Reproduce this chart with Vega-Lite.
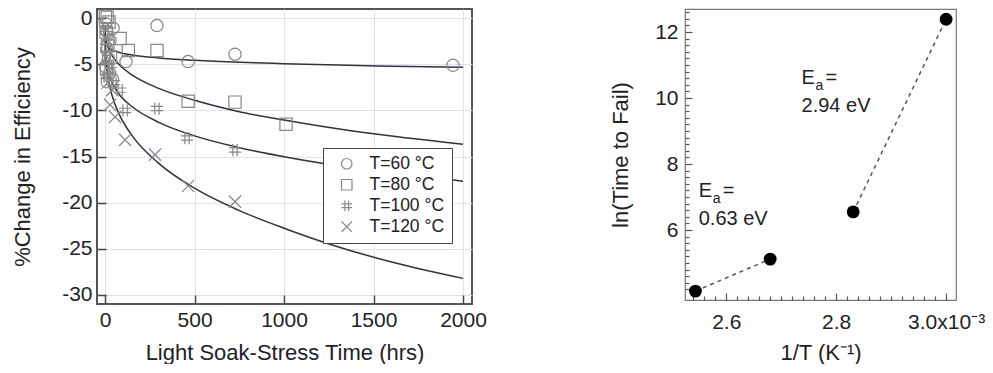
{
  "$schema": "https://vega.github.io/schema/vega-lite/v6.json",
  "background": "white",
  "padding": {"left": 10, "top": 6, "right": 0, "bottom": 0},
  "spacing": 121,
  "config": {"font": "Liberation Sans"},
  "datasets": {
    "fits": [
      {"T": "T=60 °C", "t": 0.2, "y": -1.88}, {"T": "T=60 °C", "t": 1, "y": -2.26}, {"T": "T=60 °C", "t": 3, "y": -2.56}, {"T": "T=60 °C", "t": 10, "y": -2.93}, {"T": "T=60 °C", "t": 20, "y": -3.17}, {"T": "T=60 °C", "t": 40, "y": -3.43}, {"T": "T=60 °C", "t": 80, "y": -3.71}, {"T": "T=60 °C", "t": 150, "y": -3.98}, {"T": "T=60 °C", "t": 300, "y": -4.31}, {"T": "T=60 °C", "t": 500, "y": -4.56}, {"T": "T=60 °C", "t": 750, "y": -4.78}, {"T": "T=60 °C", "t": 1000, "y": -4.93}, {"T": "T=60 °C", "t": 1300, "y": -5.08}, {"T": "T=60 °C", "t": 1600, "y": -5.2}, {"T": "T=60 °C", "t": 2000, "y": -5.33},
      {"T": "T=80 °C", "t": 0.2, "y": -0.8}, {"T": "T=80 °C", "t": 1, "y": -1.31}, {"T": "T=80 °C", "t": 3, "y": -1.84}, {"T": "T=80 °C", "t": 10, "y": -2.67}, {"T": "T=80 °C", "t": 20, "y": -3.31}, {"T": "T=80 °C", "t": 40, "y": -4.09}, {"T": "T=80 °C", "t": 80, "y": -5.06}, {"T": "T=80 °C", "t": 150, "y": -6.14}, {"T": "T=80 °C", "t": 300, "y": -7.61}, {"T": "T=80 °C", "t": 500, "y": -8.9}, {"T": "T=80 °C", "t": 750, "y": -10.14}, {"T": "T=80 °C", "t": 1000, "y": -11.04}, {"T": "T=80 °C", "t": 1300, "y": -11.99}, {"T": "T=80 °C", "t": 1600, "y": -12.78}, {"T": "T=80 °C", "t": 2000, "y": -13.67},
      {"T": "T=100 °C", "t": 0.2, "y": -2.01}, {"T": "T=100 °C", "t": 1, "y": -2.94}, {"T": "T=100 °C", "t": 3, "y": -3.81}, {"T": "T=100 °C", "t": 10, "y": -5.06}, {"T": "T=100 °C", "t": 20, "y": -5.96}, {"T": "T=100 °C", "t": 40, "y": -7.02}, {"T": "T=100 °C", "t": 80, "y": -8.27}, {"T": "T=100 °C", "t": 150, "y": -9.58}, {"T": "T=100 °C", "t": 300, "y": -11.29}, {"T": "T=100 °C", "t": 500, "y": -12.76}, {"T": "T=100 °C", "t": 750, "y": -14.04}, {"T": "T=100 °C", "t": 1000, "y": -15.03}, {"T": "T=100 °C", "t": 1300, "y": -16.0}, {"T": "T=100 °C", "t": 1600, "y": -16.8}, {"T": "T=100 °C", "t": 2000, "y": -17.68},
      {"T": "T=120 °C", "t": 0.2, "y": -1.64}, {"T": "T=120 °C", "t": 1, "y": -2.7}, {"T": "T=120 °C", "t": 3, "y": -3.79}, {"T": "T=120 °C", "t": 10, "y": -5.5}, {"T": "T=120 °C", "t": 20, "y": -6.81}, {"T": "T=120 °C", "t": 40, "y": -8.44}, {"T": "T=120 °C", "t": 80, "y": -10.46}, {"T": "T=120 °C", "t": 150, "y": -12.71}, {"T": "T=120 °C", "t": 300, "y": -15.74}, {"T": "T=120 °C", "t": 500, "y": -18.44}, {"T": "T=120 °C", "t": 750, "y": -20.87}, {"T": "T=120 °C", "t": 1000, "y": -22.78}, {"T": "T=120 °C", "t": 1300, "y": -24.79}, {"T": "T=120 °C", "t": 1600, "y": -26.44}, {"T": "T=120 °C", "t": 2000, "y": -28.22}
    ],
    "obs": [
      {"T": "T=60 °C", "t": 3, "y": -0.6}, {"T": "T=60 °C", "t": 10, "y": -1.4}, {"T": "T=60 °C", "t": 45, "y": -1.1}, {"T": "T=60 °C", "t": 28, "y": -2.4}, {"T": "T=60 °C", "t": 8, "y": -3.4}, {"T": "T=60 °C", "t": 18, "y": -4.4}, {"T": "T=60 °C", "t": 117, "y": -4.7}, {"T": "T=60 °C", "t": 4, "y": -5.3}, {"T": "T=60 °C", "t": 25, "y": -6.0}, {"T": "T=60 °C", "t": 42, "y": -6.6}, {"T": "T=60 °C", "t": 12, "y": -6.9}, {"T": "T=60 °C", "t": 290, "y": -0.8}, {"T": "T=60 °C", "t": 464, "y": -4.7}, {"T": "T=60 °C", "t": 726, "y": -3.9}, {"T": "T=60 °C", "t": 1944, "y": -5.1},
      {"T": "T=80 °C", "t": 2, "y": 0.2}, {"T": "T=80 °C", "t": 12, "y": 0.1}, {"T": "T=80 °C", "t": 22, "y": -0.4}, {"T": "T=80 °C", "t": 6, "y": -1.5}, {"T": "T=80 °C", "t": 84, "y": -2.2}, {"T": "T=80 °C", "t": 16, "y": -3.0}, {"T": "T=80 °C", "t": 130, "y": -3.5}, {"T": "T=80 °C", "t": 30, "y": -4.2}, {"T": "T=80 °C", "t": 8, "y": -5.5}, {"T": "T=80 °C", "t": 290, "y": -3.5}, {"T": "T=80 °C", "t": 464, "y": -9.0}, {"T": "T=80 °C", "t": 726, "y": -9.1}, {"T": "T=80 °C", "t": 1011, "y": -11.5},
      {"T": "T=100 °C", "t": 4, "y": -1.2}, {"T": "T=100 °C", "t": 9, "y": -2.6}, {"T": "T=100 °C", "t": 18, "y": -3.8}, {"T": "T=100 °C", "t": 12, "y": -4.8}, {"T": "T=100 °C", "t": 30, "y": -5.6}, {"T": "T=100 °C", "t": 6, "y": -6.3}, {"T": "T=100 °C", "t": 50, "y": -7.0}, {"T": "T=100 °C", "t": 84, "y": -7.8}, {"T": "T=100 °C", "t": 112, "y": -10.0}, {"T": "T=100 °C", "t": 290, "y": -9.8}, {"T": "T=100 °C", "t": 458, "y": -13.0}, {"T": "T=100 °C", "t": 726, "y": -14.3},
      {"T": "T=120 °C", "t": 5, "y": -2.2}, {"T": "T=120 °C", "t": 10, "y": -4.2}, {"T": "T=120 °C", "t": 20, "y": -5.6}, {"T": "T=120 °C", "t": 14, "y": -7.0}, {"T": "T=120 °C", "t": 40, "y": -7.8}, {"T": "T=120 °C", "t": 28, "y": -9.4}, {"T": "T=120 °C", "t": 56, "y": -10.7}, {"T": "T=120 °C", "t": 112, "y": -13.2}, {"T": "T=120 °C", "t": 279, "y": -14.8}, {"T": "T=120 °C", "t": 464, "y": -18.2}, {"T": "T=120 °C", "t": 726, "y": -19.9}
    ],
    "arr": [
      {"x": 2.544, "y": 4.15, "seg": "low"}, {"x": 2.68, "y": 5.12, "seg": "low"},
      {"x": 2.831, "y": 6.55, "seg": "high"}, {"x": 3.0, "y": 12.39, "seg": "high"}
    ],
    "notes": [
      {"x": 2.55, "y": 7.0, "txt": "E", "kind": "main"},
      {"x": 2.55, "y": 7.0, "txt": "a", "kind": "sub"},
      {"x": 2.55, "y": 7.0, "txt": "=", "kind": "eq"},
      {"x": 2.55, "y": 6.14, "txt": "0.63 eV", "kind": "main"},
      {"x": 2.737, "y": 10.43, "txt": "E", "kind": "main"},
      {"x": 2.737, "y": 10.43, "txt": "a", "kind": "sub"},
      {"x": 2.737, "y": 10.43, "txt": "=", "kind": "eq"},
      {"x": 2.737, "y": 9.58, "txt": "2.94 eV", "kind": "main"}
    ]
  },
  "hconcat": [
    {
      "width": 375,
      "height": 295,
      "view": {"stroke": "#555", "strokeWidth": 2},
      "encoding": {
        "x": {"field": "t", "type": "quantitative",
          "scale": {"domain": [-45, 2050], "nice": false, "zero": false},
          "axis": {"values": [0, 500, 1000, 1500, 2000], "labelExpr": "'' + datum.value", "title": "Light Soak-Stress Time (hrs)", "grid": true, "gridColor": "#dfe2f4", "gridWidth": 1, "domain": false, "tickSize": -9, "tickColor": "#444", "tickWidth": 1.5, "labelPadding": 14, "labelFontSize": 21, "labelColor": "#222", "titleFontSize": 22, "titleFontWeight": "normal", "titleColor": "#222", "titlePadding": 12}},
        "y": {"field": "y", "type": "quantitative",
          "scale": {"domain": [-31, 1], "nice": false, "zero": false},
          "axis": {"values": [-30, -25, -20, -15, -10, -5, 0], "labelExpr": "'' + datum.value", "title": "%Change in Efficiency", "grid": true, "gridColor": "#dfe2f4", "gridWidth": 1, "domain": false, "tickSize": -9, "tickColor": "#444", "tickWidth": 1.5, "labelPadding": 14, "labelFontSize": 21, "labelColor": "#222", "titleFontSize": 22, "titleFontWeight": "normal", "titleColor": "#222", "titlePadding": 27}}
      },
      "layer": [
        {"data": {"name": "fits"}, "mark": {"type": "line", "color": "#333", "strokeWidth": 1.5, "interpolate": "monotone"},
          "encoding": {"detail": {"field": "T"}}},
        {"data": {"name": "obs"}, "mark": {"type": "point", "filled": false, "color": "#888", "strokeWidth": 1.2, "size": 150, "opacity": 1},
          "encoding": {"shape": {"field": "T", "type": "nominal",
            "scale": {"domain": ["T=60 °C", "T=80 °C", "T=100 °C", "T=120 °C"], "range": ["circle", "square", "M-0.35,-1L-0.35,1M0.35,-1L0.35,1M-1,-0.35L1,-0.35M-1,0.35L1,0.35", "M-1,-1L1,1M-1,1L1,-1"]},
            "legend": {"title": null, "orient": "none", "legendX": 226, "legendY": 139, "fillColor": "white", "strokeColor": "#444", "padding": 7, "labelFontSize": 17.5, "labelColor": "#222", "symbolSize": 110, "symbolStrokeColor": "#888", "symbolStrokeWidth": 1.2, "rowPadding": 2, "labelOffset": 14, "symbolOffset": 8}}}}
      ]
    },
    {
      "width": 271,
      "height": 291,
      "view": {"stroke": "#777", "strokeWidth": 1.2},
      "encoding": {
        "x": {"field": "x", "type": "quantitative",
          "scale": {"domain": [2.525, 3.018], "nice": false, "zero": false},
          "axis": {"values": [2.54, 2.56, 2.58, 2.6, 2.62, 2.64, 2.66, 2.68, 2.7, 2.72, 2.74, 2.76, 2.78, 2.8, 2.82, 2.84, 2.86, 2.88, 2.9, 2.92, 2.94, 2.96, 2.98, 3.0],
            "labelExpr": "abs(datum.value*5 - round(datum.value*5)) < 0.001 ? (datum.value > 2.99 ? '3.0x10⁻³' : format(datum.value, '.1f')) : ''",
            "labelFontSize": {"condition": {"test": "abs(datum.value*5 - round(datum.value*5)) < 0.001", "value": 21}, "value": 0},
            "title": "1/T (K⁻¹)", "grid": false, "domain": false, "labelOverlap": false, "labelFlush": false,
            "tickSize": {"condition": {"test": "abs(datum.value*5 - round(datum.value*5)) < 0.001", "value": -7}, "value": -4},
            "tickColor": "#555", "tickWidth": 1.2, "labelPadding": 18, "labelColor": "#222", "titleFontSize": 22, "titleFontWeight": "normal", "titleColor": "#222", "titlePadding": 10}},
        "y": {"field": "y", "type": "quantitative",
          "scale": {"domain": [3.88, 12.7], "nice": false, "zero": false},
          "axis": {"values": [4.2, 4.4, 4.6, 4.8, 5, 5.2, 5.4, 5.6, 5.8, 6, 6.2, 6.4, 6.6, 6.8, 7, 7.2, 7.4, 7.6, 7.8, 8, 8.2, 8.4, 8.6, 8.8, 9, 9.2, 9.4, 9.6, 9.8, 10, 10.2, 10.4, 10.6, 10.8, 11, 11.2, 11.4, 11.6, 11.8, 12, 12.2, 12.4, 12.6],
            "labelExpr": "abs(datum.value/2 - round(datum.value/2)) < 0.001 ? format(datum.value, 'd') : ''",
            "labelFontSize": {"condition": {"test": "abs(datum.value/2 - round(datum.value/2)) < 0.001", "value": 21}, "value": 0},
            "title": "ln(Time to Fail)", "grid": false, "domain": false, "labelOverlap": false, "labelFlush": false,
            "tickSize": {"condition": {"test": "abs(datum.value/2 - round(datum.value/2)) < 0.001", "value": -7}, "value": -4},
            "tickColor": "#555", "tickWidth": 1.2, "labelPadding": 14, "labelColor": "#222", "titleFontSize": 22, "titleFontWeight": "normal", "titleColor": "#222", "titlePadding": 22}}
      },
      "layer": [
        {"data": {"name": "arr"}, "mark": {"type": "line", "strokeDash": [4, 4], "color": "#555", "strokeWidth": 1.5},
          "encoding": {"detail": {"field": "seg"}}},
        {"data": {"name": "arr"}, "mark": {"type": "circle", "color": "#000", "size": 165, "opacity": 1}},
        {"data": {"name": "notes"}, "transform": [{"filter": "datum.kind === 'main'"}],
          "mark": {"type": "text", "align": "left", "baseline": "alphabetic", "fontSize": 20, "color": "#222"},
          "encoding": {"text": {"field": "txt"}}},
        {"data": {"name": "notes"}, "transform": [{"filter": "datum.kind === 'sub'"}],
          "mark": {"type": "text", "align": "left", "baseline": "alphabetic", "fontSize": 14, "dx": 14, "dy": 6, "color": "#222"},
          "encoding": {"text": {"field": "txt"}}},
        {"data": {"name": "notes"}, "transform": [{"filter": "datum.kind === 'eq'"}],
          "mark": {"type": "text", "align": "left", "baseline": "alphabetic", "fontSize": 20, "dx": 24, "color": "#222"},
          "encoding": {"text": {"field": "txt"}}}
      ]
    }
  ]
}
